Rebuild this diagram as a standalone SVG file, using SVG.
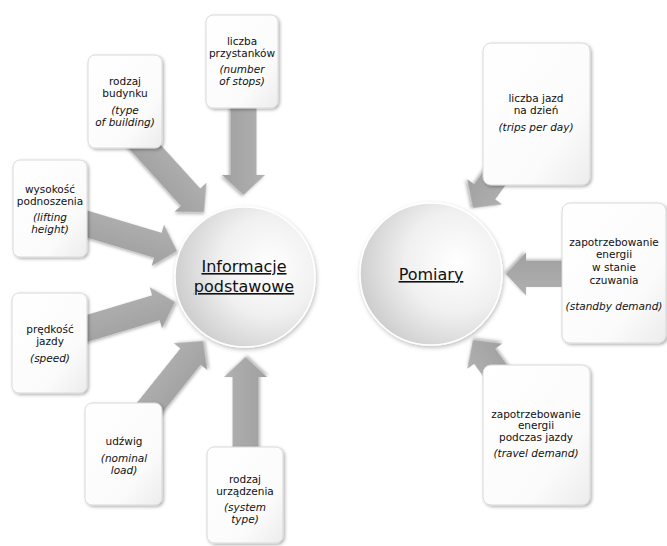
<svg xmlns="http://www.w3.org/2000/svg" width="667" height="546" viewBox="0 0 667 546">
<defs>
<filter id="sh" x="-20%" y="-20%" width="140%" height="140%">
<feDropShadow dx="1.5" dy="1.5" stdDeviation="1.5" flood-color="#000" flood-opacity="0.3"/>
</filter>
<filter id="shc" x="-20%" y="-20%" width="140%" height="140%">
<feDropShadow dx="1" dy="2" stdDeviation="2" flood-color="#000" flood-opacity="0.25"/>
</filter>
<linearGradient id="boxg" x1="0" y1="0" x2="1" y2="1">
<stop offset="0" stop-color="#ffffff"/>
<stop offset="0.7" stop-color="#fbfbfb"/>
<stop offset="1" stop-color="#ececec"/>
</linearGradient>
<radialGradient id="circg" cx="0.68" cy="0.42" r="0.8">
<stop offset="0" stop-color="#ffffff"/>
<stop offset="0.45" stop-color="#f0f0f0"/>
<stop offset="1" stop-color="#c2c2c2"/>
</radialGradient>
<linearGradient id="arrg" x1="0" y1="0" x2="0" y2="1">
<stop offset="0" stop-color="#b0b0b0"/>
<stop offset="1" stop-color="#a0a0a0"/>
</linearGradient>
<polygon id="arr" points="-200,-13 -20,-13 -20,-21.5 0,0 -20,21.5 -20,13 -200,13"/>
</defs>
<style>
.box{fill:url(#boxg);stroke:#d9d9d9;stroke-width:1;filter:url(#sh)}
.circ{fill:url(#circg);stroke:#ffffff;stroke-width:1.5;filter:url(#shc)}
.arrow{fill:url(#arrg);filter:url(#sh)}
text{font-family:"DejaVu Sans","Verdana",sans-serif;fill:#111;text-anchor:middle}
.t{font-size:10.5px}
.i{font-size:10.5px;font-style:italic}
.big{font-size:16px;text-decoration:underline}
</style>
<rect width="667" height="546" fill="#ffffff"/>

<g id="connectors">
<polygon class="arrow" points="-95,-13 -20,-13 -20,-21.5 0,0 -20,21.5 -20,13 -95,13" transform="translate(243.5,195) rotate(90)"/>
<polygon class="arrow" points="-117,-13 -20,-13 -20,-21.5 0,0 -20,21.5 -20,13 -117,13" transform="translate(204,212) rotate(47.8)"/>
<polygon class="arrow" points="-122,-13 -20,-13 -20,-21.5 0,0 -20,21.5 -20,13 -122,13" transform="translate(177,251) rotate(16.7)"/>
<polygon class="arrow" points="-120,-13 -20,-13 -20,-21.5 0,0 -20,21.5 -20,13 -120,13" transform="translate(175,302) rotate(-16.7)"/>
<polygon class="arrow" points="-117,-13 -20,-13 -20,-21.5 0,0 -20,21.5 -20,13 -117,13" transform="translate(203,341) rotate(-51.3)"/>
<polygon class="arrow" points="-98,-13 -20,-13 -20,-21.5 0,0 -20,21.5 -20,13 -98,13" transform="translate(245.5,357) rotate(-90)"/>
<polygon class="arrow" points="-80,-13 -20,-13 -20,-21.5 0,0 -20,21.5 -20,13 -80,13" transform="translate(473,208) rotate(125.8)"/>
<polygon class="arrow" points="-70,-13 -20,-13 -20,-21.5 0,0 -20,21.5 -20,13 -70,13" transform="translate(506,274) rotate(180)"/>
<polygon class="arrow" points="-80,-13 -20,-13 -20,-21.5 0,0 -20,21.5 -20,13 -80,13" transform="translate(473,340) rotate(-125.8)"/>
</g>

<g id="informacje">
<circle class="circ" cx="245" cy="277" r="70"/>
<text class="big" x="244" y="272">Informacje</text>
<text class="big" x="244" y="292">podstawowe</text>
</g>

<g id="pomiary">
<circle class="circ" cx="431" cy="274" r="71"/>
<text class="big" x="431" y="280">Pomiary</text>
</g>

<g id="liczba-przystankow">
<rect class="box" x="206" y="15" width="72" height="93" rx="7"/>
<text class="t" x="242" y="45">liczba</text>
<text class="t" x="242" y="57">przystanków</text>
<text class="i" x="242" y="73">(number</text>
<text class="i" x="242" y="85">of stops)</text>
</g>

<g id="rodzaj-budynku">
<rect class="box" x="88" y="55" width="74" height="93" rx="7"/>
<text class="t" x="125" y="85">rodzaj</text>
<text class="t" x="125" y="97">budynku</text>
<text class="i" x="125" y="114">(type</text>
<text class="i" x="125" y="126">of building)</text>
</g>

<g id="wysokosc">
<rect class="box" x="13" y="160" width="74" height="97" rx="7"/>
<text class="t" x="50" y="193">wysokość</text>
<text class="t" x="50" y="205">podnoszenia</text>
<text class="i" x="50" y="221">(lifting</text>
<text class="i" x="50" y="233">height)</text>
</g>

<g id="predkosc">
<rect class="box" x="12" y="293" width="75" height="100" rx="7"/>
<text class="t" x="50" y="333">prędkość</text>
<text class="t" x="50" y="345">jazdy</text>
<text class="i" x="50" y="362">(speed)</text>
</g>

<g id="udzwig">
<rect class="box" x="85" y="403" width="77" height="102" rx="7"/>
<text class="t" x="124" y="445">udźwig</text>
<text class="i" x="124" y="462">(nominal</text>
<text class="i" x="124" y="474">load)</text>
</g>

<g id="rodzaj-urzadzenia">
<rect class="box" x="207" y="447" width="76" height="96" rx="7"/>
<text class="t" x="245" y="483">rodzaj</text>
<text class="t" x="245" y="495">urządzenia</text>
<text class="i" x="245" y="511">(system</text>
<text class="i" x="245" y="523">type)</text>
</g>

<g id="liczba-jazd">
<rect class="box" x="483" y="43" width="107" height="142" rx="8"/>
<text class="t" x="536" y="102">liczba jazd</text>
<text class="t" x="536" y="114">na dzień</text>
<text class="i" x="536" y="131">(trips per day)</text>
</g>

<g id="standby">
<rect class="box" x="562" y="203" width="104" height="140" rx="8"/>
<text class="t" x="614" y="246">zapotrzebowanie</text>
<text class="t" x="614" y="258">energii</text>
<text class="t" x="614" y="271">w stanie</text>
<text class="t" x="614" y="284">czuwania</text>
<text class="i" x="614" y="310">(standby demand)</text>
</g>

<g id="travel">
<rect class="box" x="483" y="365" width="107" height="140" rx="8"/>
<text class="t" x="536" y="418">zapotrzebowanie</text>
<text class="t" x="536" y="429">energii</text>
<text class="t" x="536" y="441">podczas jazdy</text>
<text class="i" x="536" y="457">(travel demand)</text>
</g>
</svg>
